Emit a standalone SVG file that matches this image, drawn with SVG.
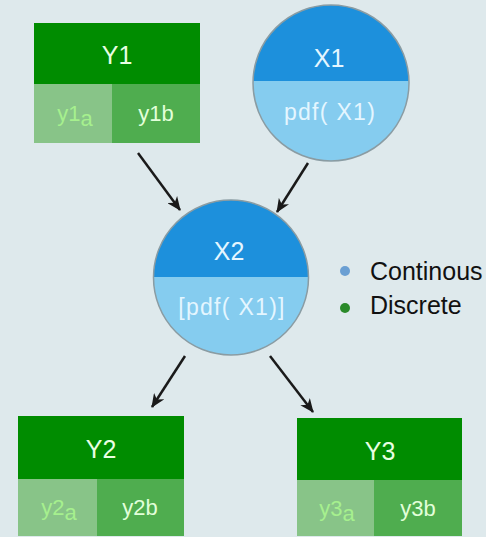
<svg xmlns="http://www.w3.org/2000/svg" width="486" height="537" viewBox="0 0 486 537">
<style>
  text { font-family: "Liberation Sans", Arial, sans-serif; text-anchor: middle; }
  .hdr { fill: #008c00; }
  .ca { fill: #88c488; }
  .cb { fill: #4fad4f; }
  .ylab { font-size: 25px; fill: #e8ffe2; }
  .ya { font-size: 22px; fill: #a6f08e; }
  .yb { font-size: 22px; fill: #e2ffda; }
  .ctop { fill: #1d90dc; }
  .cbot { fill: #85ccef; }
  .ring { fill: none; stroke: #8a9ca3; stroke-width: 1.5; }
  .xlab { font-size: 25px; fill: #e4f6ff; }
  .pdf { font-size: 23px; fill: #e4f6ff; letter-spacing: 1.3px; }
  .edge { stroke: #1a1a1a; stroke-width: 2.5; fill: none; marker-end: url(#arr); }
  .leg { font-size: 25px; fill: #111; text-anchor: start; }
</style>
<defs>
  <marker id="arr" markerUnits="userSpaceOnUse" markerWidth="14" markerHeight="12" refX="13" refY="6" orient="auto">
    <path d="M0,0 L14,6 L0,12 L4,6 z" fill="#1a1a1a"/>
  </marker>
  <clipPath id="cx1"><circle cx="331" cy="83" r="78"/></clipPath>
  <clipPath id="cx2"><circle cx="231" cy="277.5" r="77.5"/></clipPath>
</defs>
<rect width="486" height="537" fill="#dee9ec"/>

<g id="connectors">
  <line class="edge" x1="138" y1="153" x2="180" y2="210"/>
  <line class="edge" x1="308" y1="163" x2="277" y2="212"/>
  <line class="edge" x1="185" y1="356" x2="152" y2="407"/>
  <line class="edge" x1="270" y1="356" x2="313" y2="412"/>
</g>

<g id="Y1">
  <rect class="hdr" x="34" y="23" width="166" height="61"/>
  <rect class="ca" x="34" y="84" width="78" height="59"/>
  <rect class="cb" x="112" y="84" width="88" height="59"/>
  <text class="ylab" x="117" y="64">Y1</text>
  <text class="ya" x="75" y="121">y1<tspan dy="5">a</tspan></text>
  <text class="yb" x="156" y="121">y1b</text>
</g>

<g id="X1">
  <g clip-path="url(#cx1)">
    <rect class="ctop" x="250" y="0" width="165" height="81"/>
    <rect class="cbot" x="250" y="81" width="165" height="85"/>
  </g>
  <circle class="ring" cx="331" cy="83" r="78"/>
  <text class="xlab" x="329" y="67">X1</text>
  <text class="pdf" x="330" y="120">pdf( X1)</text>
</g>

<g id="X2">
  <g clip-path="url(#cx2)">
    <rect class="ctop" x="150" y="198" width="165" height="79"/>
    <rect class="cbot" x="150" y="277" width="165" height="82"/>
  </g>
  <circle class="ring" cx="231" cy="277.5" r="77.5"/>
  <text class="xlab" x="229" y="260">X2</text>
  <text class="pdf" x="232" y="315">[pdf( X1)]</text>
</g>

<g id="Y2">
  <rect class="hdr" x="18" y="416" width="166" height="63"/>
  <rect class="ca" x="18" y="479" width="79" height="57"/>
  <rect class="cb" x="97" y="479" width="87" height="57"/>
  <text class="ylab" x="101" y="458">Y2</text>
  <text class="ya" x="59" y="515">y2<tspan dy="5">a</tspan></text>
  <text class="yb" x="140" y="515">y2b</text>
</g>

<g id="Y3">
  <rect class="hdr" x="297" y="418" width="165" height="62"/>
  <rect class="ca" x="297" y="480" width="77" height="56"/>
  <rect class="cb" x="374" y="480" width="88" height="56"/>
  <text class="ylab" x="380" y="460">Y3</text>
  <text class="ya" x="337" y="516">y3<tspan dy="5">a</tspan></text>
  <text class="yb" x="418" y="516">y3b</text>
</g>

<g id="legend">
  <circle cx="345" cy="271" r="5" fill="#6a9fd3"/>
  <text class="leg" x="370" y="280">Continous</text>
  <circle cx="345" cy="308" r="5" fill="#2a8a2a"/>
  <text class="leg" x="370" y="314">Discrete</text>
</g>
</svg>
